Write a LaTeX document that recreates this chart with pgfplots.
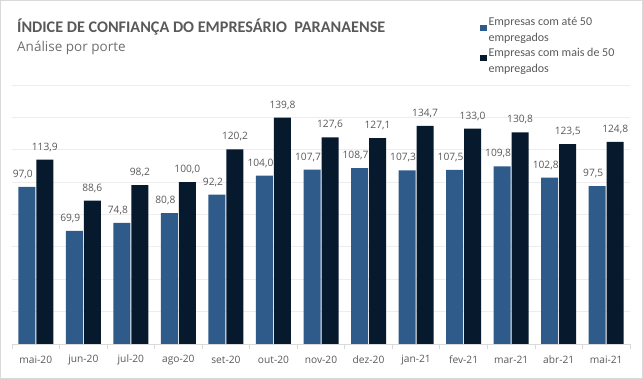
\documentclass[border=0pt]{standalone}
\usepackage{fontspec}
\setmainfont{Carlito}
\newfontfamily\opensans{Open Sans}
\usepackage{pgfplots}
\pgfplotsset{compat=1.18}
\definecolor{cblue}{HTML}{2E5B89}
\definecolor{cdark}{HTML}{06192D}
\definecolor{ctext}{HTML}{595959}
\definecolor{csub}{HTML}{6E6E6E}
\definecolor{cgrid}{HTML}{EDEDED}
\definecolor{caxis}{HTML}{D9D9D9}
\definecolor{cframe}{HTML}{D9D9D9}
\begin{document}
\begin{tikzpicture}[x=1pt,y=1pt]
\useasboundingbox (0,0) rectangle (643,379);
\draw[cframe, line width=1pt] (0.5,0.5) rectangle (642.5,378.5);
\node[anchor=base west, inner sep=0, text=ctext, font=\fontsize{16.2}{19}\selectfont\bfseries] at (17,346) {ÍNDICE DE CONFIANÇA DO EMPRESÁRIO\ \ PARANAENSE};
\node[anchor=base west, inner sep=0, text=csub, font=\opensans\fontsize{13.5}{16}\selectfont] at (17,327) {Análise por porte};
\begin{axis}[
  at={(12pt,35pt)}, anchor=south west, scale only axis, width=618pt, height=259pt,
  /pgf/number format/assume math mode=true,
  ybar=1pt, bar width=17pt,
  xmin=-0.5, xmax=12.5, ymin=0, ymax=160,
  ytick={20,40,...,160}, yticklabels={}, ymajorgrids, grid style={cgrid, line width=0.8pt},
  ytick style={draw=none},
  axis x line*=bottom, axis y line*=left,
  x axis line style={caxis, line width=0.8pt, -},
  y axis line style={draw=none},
  xtick={0,...,12},
  xticklabels={mai-20,jun-20,jul-20,ago-20,set-20,out-20,nov-20,dez-20,jan-21,fev-21,mar-21,abr-21,mai-21},
  major tick length=0pt, major x tick style={draw=none},
  minor xtick={-0.5,0.5,...,12.5}, minor tick length=5pt, tick align=outside,
  minor x tick style={caxis, line width=0.8pt},
  xticklabel style={font=\opensans\fontsize{10.2}{12}\selectfont, text=ctext, anchor=center, yshift=-16pt},
  nodes near coords={\opensans\pgfmathprintnumber[fixed,fixed zerofill,precision=1,use comma,assume math mode=true]{\pgfplotspointmeta}},
  every node near coord/.append style={font=\opensans\fontsize{10.2}{12}\selectfont, text=ctext, anchor=center, yshift=12.5pt},
  legend style={at={(0.757,1.268)}, anchor=north west, draw=none, fill=none,
    font=\fontsize{12}{16}\selectfont, text=ctext, cells={align=left}, row sep=0.3pt, inner sep=0pt},
  legend cell align=left,
  legend image code/.code={\fill[#1] (0pt,-0.5pt) rectangle (6.5pt,6pt);},
]
\addplot[fill=cblue, draw=none, every node near coord/.append style={xshift=-4pt}] coordinates {
 (0,97.0) (1,69.9) (2,74.8) (3,80.8) (4,92.2) (5,104.0) (6,107.7) (7,108.7) (8,107.3) (9,107.5) (10,109.8) (11,102.8) (12,97.5)};
\addplot[fill=cdark, draw=none] coordinates {
 (0,113.9) (1,88.6) (2,98.2) (3,100.0) (4,120.2) (5,139.8) (6,127.6) (7,127.1) (8,134.7) (9,133.0) (10,130.8) (11,123.5) (12,124.8)};
\addlegendentry{Empresas com até 50\\empregados}
\addlegendentry{Empresas com mais de 50\\empregados}
\end{axis}
\end{tikzpicture}
\end{document}
